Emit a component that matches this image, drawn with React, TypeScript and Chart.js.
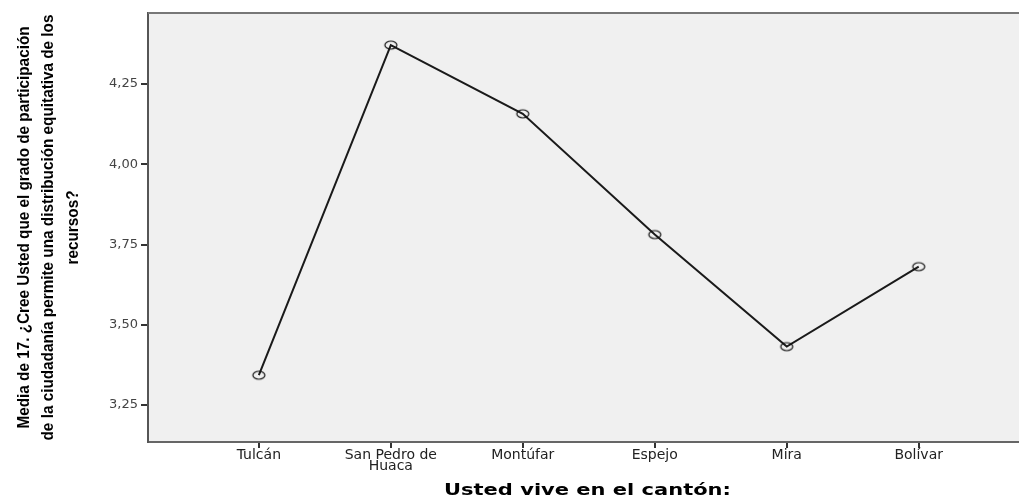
import React, { useEffect, useRef } from "react";
import { Chart, registerables } from "chart.js";

Chart.register(...registerables);

const categories: (string | string[])[] = ["Tulcán", ["San Pedro de", "Huaca"], "Montúfar", "Espejo", "Mira", "Bolívar"];
const means: number[] = [3.343, 4.371, 4.157, 3.781, 3.432, 3.681];
const yTicks: number[] = [3.25, 3.5, 3.75, 4.0, 4.25];
const yTitle: string[] = [
  "Media de 17. ¿Cree Usted que el grado de participación",
  "de la ciudadanía permite una distribución equitativa de los",
  "recursos?",
];
const xTitle = "Usted vive en el cantón:";

const frame = {
  id: "frame",
  beforeDraw(chart: any) {
    const { ctx, chartArea } = chart;
    ctx.save();
    ctx.fillStyle = "#f0f0f0";
    ctx.fillRect(chartArea.left, chartArea.top, chartArea.right - chartArea.left, chartArea.bottom - chartArea.top);
    ctx.restore();
  },
  afterDraw(chart: any) {
    const { ctx, chartArea } = chart;
    ctx.save();
    ctx.strokeStyle = "#777";
    ctx.lineWidth = 2;
    ctx.beginPath();
    ctx.moveTo(chartArea.left, chartArea.top);
    ctx.lineTo(chartArea.right, chartArea.top);
    ctx.stroke();

    // y-axis title (narrow bold, rotated)
    const midY = (chartArea.top + chartArea.bottom) / 2;
    ctx.fillStyle = "#000";
    ctx.font = "bold 17px 'Liberation Sans', Arial, sans-serif";
    ctx.textAlign = "center";
    ctx.textBaseline = "middle";
    yTitle.forEach((line, i) => {
      ctx.save();
      ctx.translate(chartArea.left - 124 + i * 24.5, midY);
      ctx.rotate(-Math.PI / 2);
      ctx.scale(0.9, 1.0);
      ctx.fillText(line, 0, 0);
      ctx.restore();
    });

    // x-axis title (wide bold)
    ctx.save();
    ctx.translate((chartArea.left + chartArea.right) / 2 + 4, 491);
    ctx.scale(1.4, 1);
    ctx.font = "bold 15px 'DejaVu Sans', sans-serif";
    ctx.fillText(xTitle, 0, 0);
    ctx.restore();

    ctx.restore();
  },
};

function makeMarker(): HTMLCanvasElement {
  const c = document.createElement("canvas");
  c.width = 16;
  c.height = 12;
  const g = c.getContext("2d")!;
  g.strokeStyle = "#111";
  g.lineWidth = 1.2;
  g.beginPath();
  g.ellipse(8, 6, 6, 4, 0, 0, Math.PI * 2);
  g.stroke();
  return c;
}

export default function App() {
  const ref = useRef<HTMLCanvasElement>(null);
  useEffect(() => {
    if (!ref.current) return;
    const marker = makeMarker();
    const chart = new Chart(ref.current, {
      type: "line",
      data: {
        datasets: [
          {
            data: means.map((v, i) => ({ x: i, y: v })),
            borderColor: "#1a1a1a",
            borderWidth: 2,
            pointStyle: marker,
            pointRadius: 6,
            tension: 0,
          },
        ],
      },
      plugins: [frame],
      options: {
        responsive: false,
        animation: false,
        layout: { padding: { top: 13, left: 0, right: 0, bottom: 0 }, autoPadding: false },
        plugins: { legend: { display: false }, tooltip: { enabled: false } },
        scales: {
          x: {
            type: "linear",
            min: -0.84,
            max: 5.76,
            afterBuildTicks: (axis: any) => {
              axis.ticks = categories.map((_, i) => ({ value: i }));
            },
            afterFit: (scale: any) => {
              scale.height = 58;
              scale.paddingLeft = 0;
              scale.paddingRight = 0;
            },
            ticks: {
              autoSkip: false,
              maxRotation: 0,
              padding: 2,
              color: "#222",
              font: { family: "'DejaVu Sans', sans-serif", size: 14, lineHeight: 0.8 },
              callback: (v: any) => categories[Math.round(Number(v))] as any,
            },
            grid: { display: true, drawOnChartArea: false, drawTicks: true, tickLength: 6, color: "#333", lineWidth: 2 },
            border: { display: true, color: "#666", width: 2 },
            title: { display: false },
          },
          y: {
            type: "linear",
            min: 3.135,
            max: 4.471,
            afterBuildTicks: (axis: any) => {
              axis.ticks = yTicks.map((v) => ({ value: v }));
            },
            afterFit: (scale: any) => {
              scale.width = 148;
              scale.paddingTop = 0;
              scale.paddingBottom = 0;
            },
            ticks: {
              padding: 3,
              color: "#444",
              font: { family: "'DejaVu Sans', sans-serif", size: 13 },
              callback: (v: any) => Number(v).toFixed(2).replace(".", ","),
            },
            grid: { display: true, drawOnChartArea: false, drawTicks: true, tickLength: 7, color: "#333", lineWidth: 2 },
            border: { display: true, color: "#555", width: 2 },
            title: { display: false },
          },
        },
      },
    } as any);
    return () => chart.destroy();
  }, []);
  return (
    <div style={{ position: "fixed", left: 0, top: 0, width: 1019, height: 500, background: "#fff" }}>
      <canvas ref={ref} width={1019} height={500} />
    </div>
  );
}
